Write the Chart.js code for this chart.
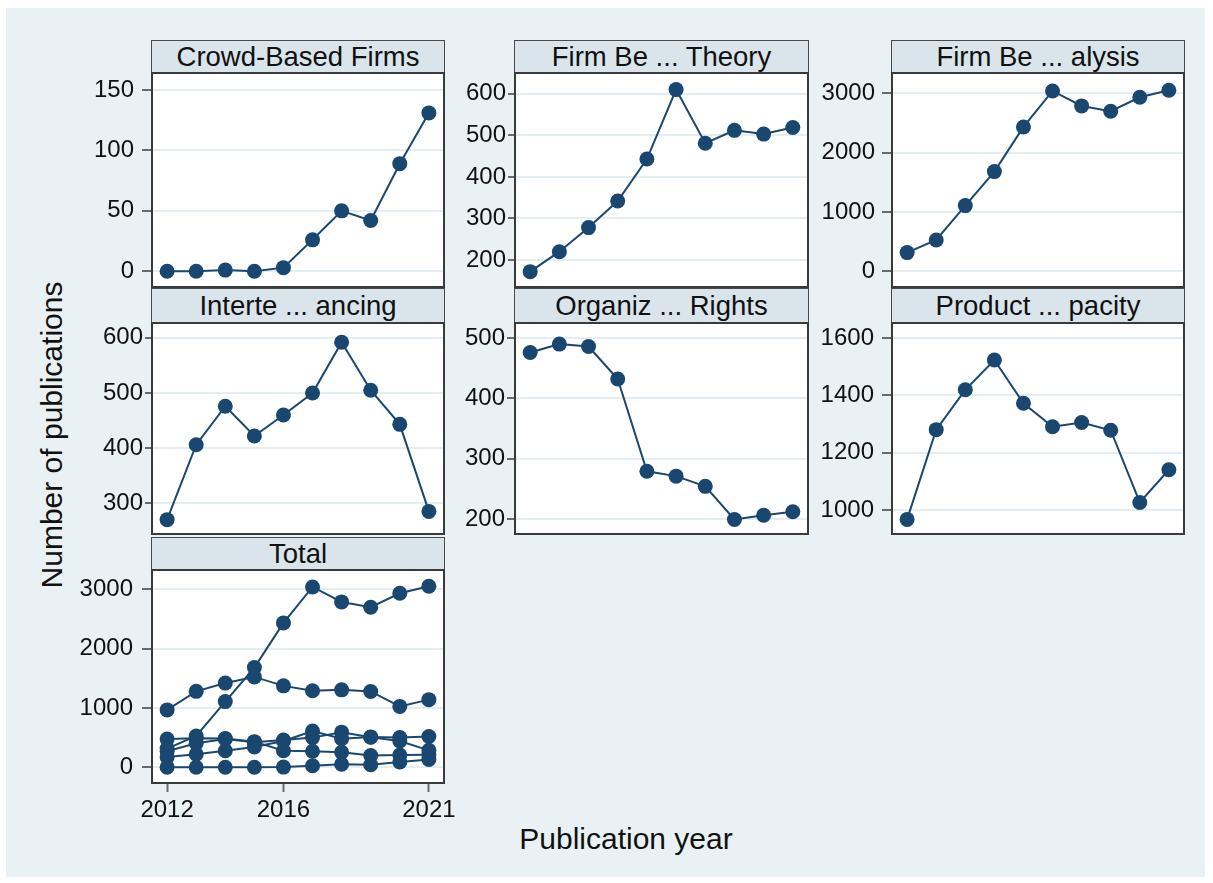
<!DOCTYPE html>
<html><head><meta charset="utf-8">
<script src="https://cdn.jsdelivr.net/npm/chart.js@4.4.1/dist/chart.umd.min.js"></script>
<style>
body{margin:0;background:#fff;width:1213px;height:883px;overflow:hidden;position:relative;font-family:"Liberation Sans",Arial,sans-serif;}
#bg{position:absolute;left:6px;top:8px;width:1199px;height:869px;background:#eaf1f4;}
.hdr{position:absolute;box-sizing:border-box;background:#d9e5ea;border:1.5px solid #4a4a4a;border-bottom:2.5px solid #111;text-align:center;color:#111;font-size:27.5px;white-space:nowrap;}
canvas{position:absolute;}
.ytitle{position:absolute;left:52px;top:435px;transform:translate(-50%,-50%) rotate(-90deg);font-size:30px;color:#111;white-space:nowrap;}
.xtitle{position:absolute;left:626px;top:822px;transform:translateX(-50%);font-size:30px;color:#111;white-space:nowrap;}
</style></head>
<body>
<div id="bg"></div>
<div class="ytitle">Number of publications</div>
<div class="xtitle">Publication year</div>
<script>
// ---- data ----
const years = [2012,2013,2014,2015,2016,2017,2018,2019,2020,2021];
const crowdBased     = [0,0,1,0,3,26,50,42,89,131];
const firmTheory     = [172,220,278,342,443,610,481,512,503,519];
const firmAnalysis   = [315,528,1107,1680,2433,3039,2787,2697,2933,3051];
const intertemporal  = [270,406,476,422,460,500,592,505,443,285];
const organizRights  = [476,490,486,432,279,271,254,199,206,212];
const productCap     = [967,1280,1419,1523,1372,1290,1305,1278,1026,1140];
const panelTitles = ["Crowd-Based Firms","Firm Be ... Theory","Firm Be ... alysis","Interte ... ancing","Organiz ... Rights","Product ... pacity","Total"];
const ticksCrowd = [0,50,100,150];
const ticksTheory = [200,300,400,500,600];
const ticksAnalysis = [0,1000,2000,3000];
const ticksInter = [300,400,500,600];
const ticksOrganiz = [200,300,400,500];
const ticksProduct = [1000,1200,1400,1600];
const ticksTotal = [0,1000,2000,3000];
const xTickLabels = [2012,2016,2021];

// ---- layout / style ----
const COLS = [[152,444],[515,808],[892,1184]];
const ROWS = [{h:40,t:73,b:287},{h:288,t:323,b:534},{h:537,t:570,b:783}];
const NAVY = '#1a476f';
const panels = [
  {title:panelTitles[0], series:[crowdBased], ticks:ticksCrowd, min:-13, max:164, col:0,row:0, tk:[10,8]},
  {title:panelTitles[1], series:[firmTheory], ticks:ticksTheory, min:135, max:650, col:1,row:0, tk:[7,2]},
  {title:panelTitles[2], series:[firmAnalysis], ticks:ticksAnalysis, min:-265, max:3342, col:2,row:0, tk:[10,7]},
  {title:panelTitles[3], series:[intertemporal], ticks:ticksInter, min:244, max:627, col:0,row:1, tk:[7,2]},
  {title:panelTitles[4], series:[organizRights], ticks:ticksOrganiz, min:175, max:525, col:1,row:1, tk:[8,2]},
  {title:panelTitles[5], series:[productCap], ticks:ticksProduct, min:916, max:1652, col:2,row:1, tk:[10,8]},
  {title:panelTitles[6], series:[crowdBased,firmTheory,firmAnalysis,intertemporal,organizRights,productCap], ticks:ticksTotal, min:-265, max:3325, col:0,row:2, tk:[10,9], xAxis:true}
];

const framePlugin = {
  id:'frame',
  beforeDraw(chart){
    const a = chart.chartArea, c = chart.ctx;
    c.save(); c.fillStyle = '#ffffff'; c.fillRect(a.left,a.top,a.right-a.left,a.bottom-a.top); c.restore();
  },
  afterDraw(chart){
    const a = chart.chartArea, c = chart.ctx;
    c.save(); c.strokeStyle = '#3a3a3a'; c.lineWidth = 2;
    c.strokeRect(a.left,a.top,a.right-a.left,a.bottom-a.top); c.restore();
  }
};

panels.forEach((p,i)=>{
  const [L,R] = COLS[p.col]; const row = ROWS[p.row];
  const T=row.t, B=row.b;
  const AW=130, PAD=40, XAH = p.xAxis?60:0;
  const W = AW + (R-L) + PAD, H = PAD + (B-T) + PAD + XAH;

  const hd = document.createElement('div');
  hd.className='hdr'; hd.textContent = p.title;
  hd.style.left=(L-1)+'px'; hd.style.top=row.h+'px';
  hd.style.width=(R-L+2)+'px'; hd.style.height=(T-row.h+1)+'px';
  hd.style.lineHeight=(T-row.h-2)+'px';
  document.body.appendChild(hd);

  const cv = document.createElement('canvas');
  cv.width=W; cv.height=H;
  cv.style.left=(L-AW)+'px'; cv.style.top=(T-PAD)+'px';
  cv.style.width=W+'px'; cv.style.height=H+'px';
  document.body.appendChild(cv);

  const datasets = p.series.map(s=>({
    data: years.map((y,k)=>({x:y,y:s[k]})),
    borderColor:NAVY, backgroundColor:NAVY, borderWidth:2,
    pointRadius:7.5, pointBorderWidth:0, pointBackgroundColor:NAVY, tension:0
  }));

  new Chart(cv,{
    type:'line',
    data:{datasets},
    options:{
      responsive:false, animation:false, devicePixelRatio:1,
      layout:{padding:{left:0,top:PAD,right:PAD,bottom:PAD}},
      plugins:{legend:{display:false},tooltip:{enabled:false},title:{display:false}},
      events:[],
      scales:{
        x:{type:'linear', min:2011.48, max:2021.52, display: !!p.xAxis,
           afterBuildTicks:s=>{s.ticks = xTickLabels.map(v=>({value:v}));},
           afterFit:s=>{ if(p.xAxis) s.height = XAH; },
           grid:{drawOnChartArea:false, drawTicks:true, tickLength:9, tickColor:'#6a6a6a', tickWidth:2},
           border:{display:false},
           ticks:{autoSkip:false, maxRotation:0, padding:4, color:'#111', font:{family:'"Liberation Sans", Arial, sans-serif', size:24},
                  callback:v=>String(v)}
        },
        y:{type:'linear', min:p.min, max:p.max,
           afterBuildTicks:s=>{s.ticks = p.ticks.map(v=>({value:v}));},
           afterFit:s=>{s.width = AW;},
           grid:{color:'#e4eef2', lineWidth:2, drawTicks:true, tickLength:p.tk[0], tickColor:'#6a6a6a', tickWidth:2},
           border:{display:false},
           ticks:{autoSkip:false, padding:p.tk[1], color:'#111', font:{family:'"Liberation Sans", Arial, sans-serif', size:24},
                  callback:v=>String(v)}
        }
      }
    },
    plugins:[framePlugin]
  });
});
</script>
</body></html>
